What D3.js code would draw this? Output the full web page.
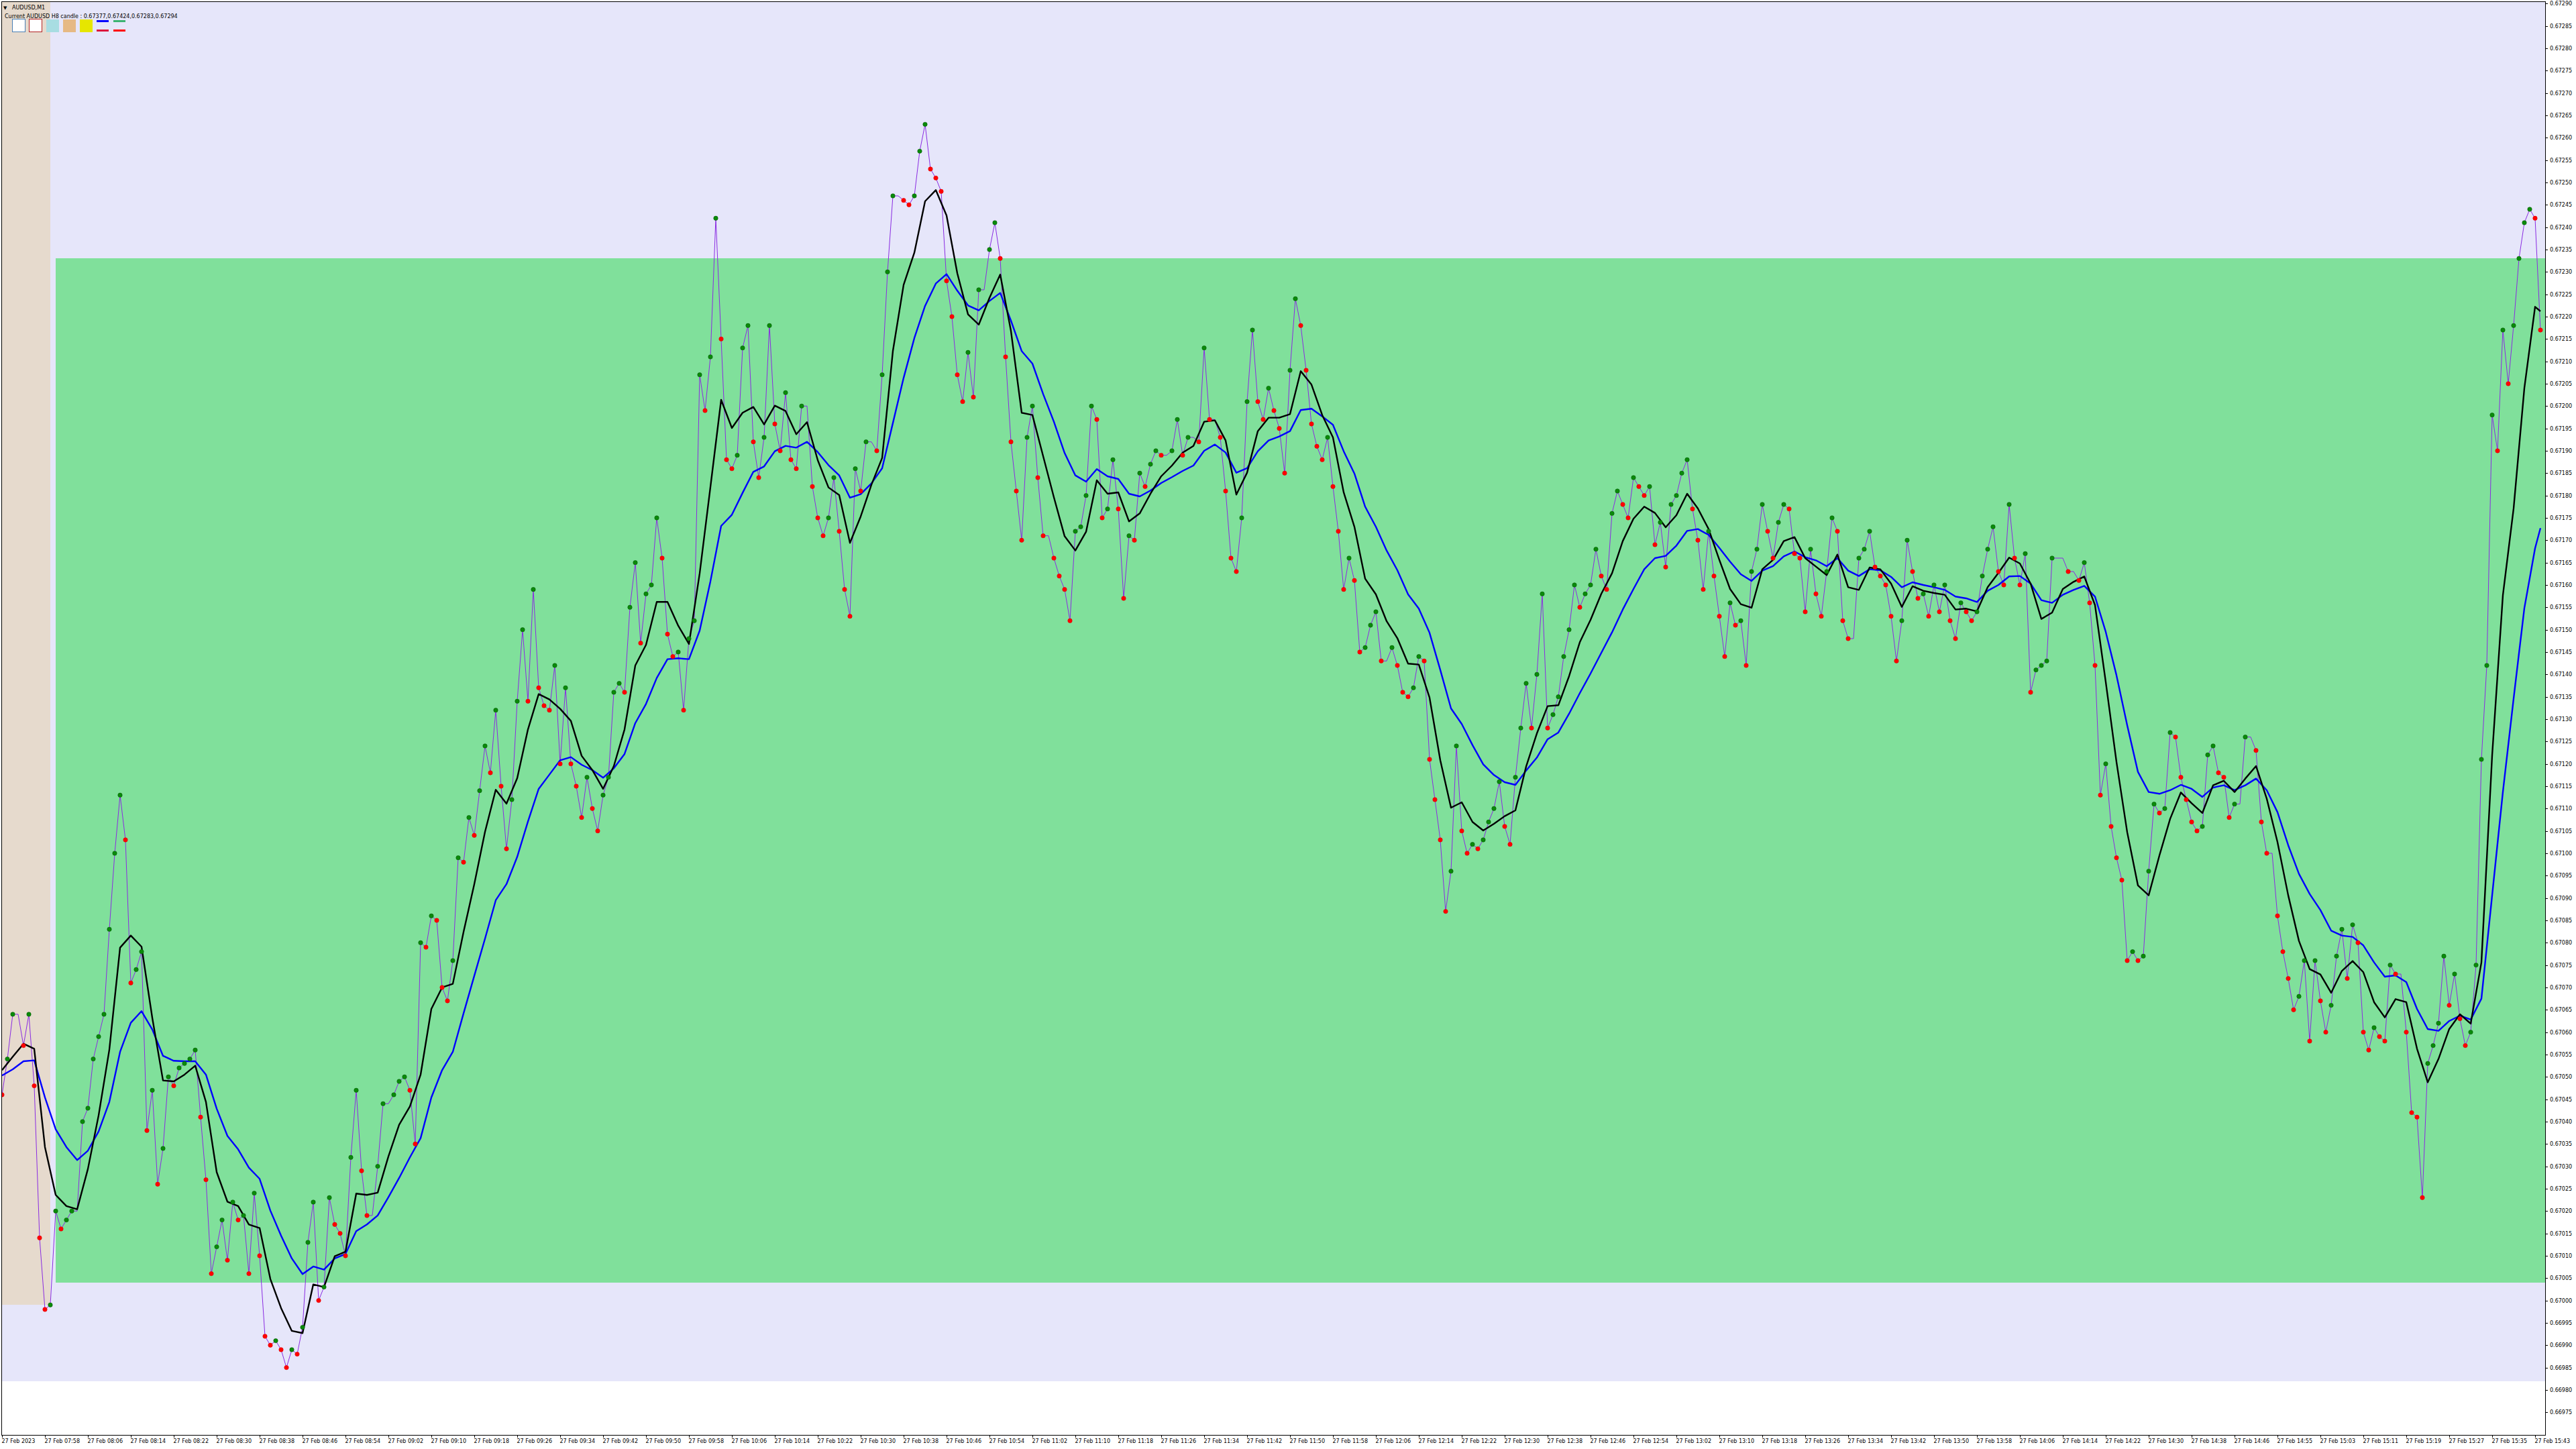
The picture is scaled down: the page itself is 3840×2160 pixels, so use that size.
<!DOCTYPE html>
<html><head><meta charset="utf-8">
<script src="https://cdn.jsdelivr.net/npm/d3@7"></script>
<style>
html,body{margin:0;padding:0;background:#fff;}
svg{display:block;}
text{font-family:"DejaVu Sans",sans-serif;}
</style>
</head><body>
<svg id="chart" width="3840" height="2160"></svg>
<script>
// ---------------- DATA ----------------
const symbolLabel = "AUDUSD,M1";
const infoLabel = "Current AUDUSD H8 candle : 0.67377,0.67424,0.67283,0.67294";

// M1 closes, 07:50 .. 15:44 (one value per bar)
const closes = [
0.67046,0.67054,0.67064,0.67064,0.67057,0.67064,0.67048,0.67014,0.66998,0.66999,0.67020,0.67016,0.67018,0.67020,0.67020,0.67040,0.67043,0.67054,0.67059,0.67064,
0.67083,0.67100,0.67113,0.67103,0.67071,0.67074,0.67078,0.67038,0.67047,0.67026,0.67034,0.67050,0.67048,0.67052,0.67053,0.67054,0.67056,0.67041,0.67027,0.67006,
0.67012,0.67018,0.67009,0.67022,0.67018,0.67019,0.67006,0.67024,0.67010,0.66992,0.66990,0.66991,0.66989,0.66985,0.66989,0.66988,0.66994,0.67013,0.67022,0.67000,
0.67003,0.67023,0.67017,0.67015,0.67010,0.67032,0.67047,0.67029,0.67019,0.67019,0.67030,0.67044,0.67044,0.67046,0.67049,0.67050,0.67047,0.67035,0.67080,0.67079,
0.67086,0.67085,0.67070,0.67067,0.67076,0.67099,0.67098,0.67108,0.67104,0.67114,0.67124,0.67118,0.67132,0.67115,0.67101,0.67112,0.67134,0.67150,0.67134,0.67159,
0.67137,0.67133,0.67132,0.67142,0.67120,0.67137,0.67120,0.67115,0.67108,0.67117,0.67110,0.67105,0.67113,0.67117,0.67136,0.67138,0.67136,0.67155,0.67165,0.67147,
0.67158,0.67160,0.67175,0.67166,0.67149,0.67144,0.67145,0.67132,0.67148,0.67152,0.67207,0.67199,0.67211,0.67242,0.67215,0.67188,0.67186,0.67189,0.67213,0.67218,
0.67192,0.67184,0.67193,0.67218,0.67196,0.67190,0.67203,0.67188,0.67186,0.67200,0.67200,0.67182,0.67175,0.67171,0.67175,0.67184,0.67172,0.67159,0.67153,0.67186,
0.67181,0.67192,0.67192,0.67190,0.67207,0.67230,0.67247,0.67247,0.67246,0.67245,0.67247,0.67257,0.67263,0.67253,0.67251,0.67248,0.67228,0.67220,0.67207,0.67201,
0.67212,0.67202,0.67226,0.67226,0.67235,0.67241,0.67233,0.67211,0.67192,0.67181,0.67170,0.67193,0.67200,0.67184,0.67171,0.67171,0.67166,0.67162,0.67159,0.67152,
0.67172,0.67173,0.67180,0.67200,0.67197,0.67175,0.67177,0.67188,0.67177,0.67157,0.67171,0.67170,0.67185,0.67182,0.67187,0.67190,0.67189,0.67189,0.67190,0.67197,
0.67189,0.67193,0.67193,0.67192,0.67213,0.67197,0.67197,0.67193,0.67181,0.67166,0.67163,0.67175,0.67201,0.67217,0.67201,0.67197,0.67204,0.67199,0.67195,0.67185,
0.67208,0.67224,0.67218,0.67208,0.67196,0.67191,0.67188,0.67193,0.67182,0.67172,0.67159,0.67166,0.67161,0.67145,0.67146,0.67151,0.67154,0.67143,0.67143,0.67146,
0.67142,0.67136,0.67135,0.67137,0.67144,0.67143,0.67121,0.67112,0.67103,0.67087,0.67096,0.67124,0.67105,0.67100,0.67102,0.67101,0.67103,0.67107,0.67110,0.67116,
0.67106,0.67102,0.67117,0.67128,0.67138,0.67128,0.67140,0.67158,0.67128,0.67131,0.67135,0.67144,0.67150,0.67160,0.67155,0.67158,0.67160,0.67168,0.67162,0.67159,
0.67176,0.67181,0.67178,0.67175,0.67184,0.67182,0.67180,0.67182,0.67169,0.67174,0.67164,0.67178,0.67180,0.67185,0.67188,0.67177,0.67170,0.67159,0.67172,0.67162,
0.67153,0.67144,0.67156,0.67151,0.67152,0.67142,0.67163,0.67168,0.67178,0.67172,0.67166,0.67174,0.67178,0.67177,0.67167,0.67166,0.67154,0.67168,0.67158,0.67153,
0.67163,0.67175,0.67172,0.67152,0.67148,0.67148,0.67166,0.67168,0.67172,0.67164,0.67162,0.67160,0.67153,0.67143,0.67152,0.67170,0.67163,0.67157,0.67158,0.67153,
0.67160,0.67154,0.67160,0.67152,0.67148,0.67156,0.67154,0.67152,0.67154,0.67162,0.67168,0.67173,0.67163,0.67160,0.67178,0.67166,0.67160,0.67167,0.67136,0.67141,
0.67142,0.67143,0.67166,0.67166,0.67166,0.67163,0.67163,0.67161,0.67165,0.67156,0.67142,0.67113,0.67120,0.67106,0.67099,0.67094,0.67076,0.67078,0.67076,0.67077,
0.67096,0.67111,0.67109,0.67110,0.67127,0.67126,0.67117,0.67112,0.67107,0.67105,0.67106,0.67122,0.67124,0.67118,0.67117,0.67108,0.67111,0.67111,0.67126,0.67126,
0.67123,0.67107,0.67100,0.67100,0.67086,0.67078,0.67072,0.67065,0.67068,0.67076,0.67058,0.67076,0.67067,0.67060,0.67066,0.67077,0.67083,0.67072,0.67084,0.67080,
0.67060,0.67056,0.67061,0.67059,0.67058,0.67075,0.67073,0.67073,0.67060,0.67042,0.67041,0.67023,0.67053,0.67057,0.67062,0.67077,0.67066,0.67073,0.67063,0.67057,
0.67060,0.67075,0.67121,0.67142,0.67198,0.67190,0.67217,0.67205,0.67218,0.67233,0.67241,0.67244,0.67242,0.67217
];

// black moving average, read every 2nd bar (bars 0,2,...,472) plus last bar 473
const maFast = [
0.670515,0.670545,0.670574,0.670563,0.670343,0.670236,0.670211,0.670204,0.670294,0.670414,
0.670561,0.670789,0.670816,0.670791,0.670632,0.670492,0.670490,0.670505,0.670525,0.670444,
0.670287,0.670221,0.670211,0.670170,0.670162,0.670048,0.669983,0.669932,0.669927,0.670036,
0.670030,0.670099,0.670109,0.670239,0.670236,0.670241,0.670322,0.670393,0.670434,0.670505,
0.670652,0.670700,0.670708,0.670824,0.670931,0.671048,0.671142,0.671111,0.671168,0.671277,
0.671356,0.671344,0.671323,0.671296,0.671218,0.671186,0.671144,0.671195,0.671277,0.671420,
0.671466,0.671562,0.671562,0.671509,0.671468,0.671626,0.671819,0.672014,0.671951,0.671985,
0.671998,0.671959,0.672001,0.671989,0.671937,0.671964,0.671879,0.671818,0.671801,0.671694,
0.671753,0.671824,0.671884,0.672123,0.672271,0.672343,0.672458,0.672483,0.672426,0.672297,
0.672205,0.672182,0.672242,0.672294,0.672168,0.671985,0.671980,0.671888,0.671796,0.671709,
0.671677,0.671719,0.671834,0.671804,0.671807,0.671742,0.671760,0.671804,0.671843,0.671867,
0.671896,0.671911,0.671965,0.671968,0.671923,0.671802,0.671851,0.671944,0.671974,0.671974,
0.671982,0.672078,0.672048,0.671980,0.671930,0.671807,0.671730,0.671614,0.671579,0.671519,
0.671481,0.671424,0.671422,0.671348,0.671208,0.671102,0.671114,0.671070,0.671051,0.671066,
0.671083,0.671096,0.671194,0.671268,0.671329,0.671331,0.671396,0.671472,0.671522,0.671580,
0.671626,0.671698,0.671748,0.671775,0.671761,0.671729,0.671756,0.671804,0.671771,0.671725,
0.671656,0.671591,0.671557,0.671549,0.671635,0.671656,0.671698,0.671707,0.671660,0.671641,
0.671622,0.671668,0.671595,0.671589,0.671639,0.671635,0.671603,0.671551,0.671597,0.671587,
0.671582,0.671578,0.671545,0.671547,0.671541,0.671595,0.671627,0.671661,0.671648,0.671603,
0.671524,0.671538,0.671591,0.671607,0.671619,0.671555,0.671383,0.671204,0.671047,0.670928,
0.670906,0.670995,0.671077,0.671136,0.671112,0.671090,0.671152,0.671162,0.671137,0.671167,
0.671195,0.671122,0.671025,0.670906,0.670804,0.670741,0.670729,0.670688,0.670737,0.670759,
0.670734,0.670667,0.670633,0.670674,0.670667,0.670563,0.670488,0.670540,0.670607,0.670640,
0.670619,0.670756,0.671219,0.671577,0.671771,0.672040,0.672222,
0.672212
];

// blue moving average, same sampling
const maSlow = [
0.670503,0.670517,0.670535,0.670537,0.670454,0.670383,0.670343,0.670314,0.670335,0.670378,
0.670444,0.670556,0.670621,0.670647,0.670606,0.670547,0.670536,0.670535,0.670535,0.670505,
0.670429,0.670368,0.670338,0.670297,0.670272,0.670201,0.670145,0.670094,0.670059,0.670076,
0.670069,0.670094,0.670104,0.670155,0.670170,0.670190,0.670231,0.670274,0.670320,0.670363,
0.670454,0.670515,0.670556,0.670642,0.670726,0.670809,0.670895,0.670931,0.670992,0.671071,
0.671144,0.671176,0.671208,0.671215,0.671198,0.671186,0.671169,0.671190,0.671222,0.671291,
0.671334,0.671392,0.671434,0.671436,0.671434,0.671498,0.671608,0.671732,0.671757,0.671806,
0.671853,0.671865,0.671899,0.671911,0.671907,0.671920,0.671897,0.671868,0.671845,0.671795,
0.671803,0.671827,0.671861,0.671962,0.672063,0.672152,0.672224,0.672274,0.672295,0.672258,
0.672225,0.672214,0.672235,0.672253,0.672191,0.672123,0.672095,0.672027,0.671965,0.671895,
0.671845,0.671831,0.671859,0.671843,0.671837,0.671804,0.671798,0.671811,0.671828,0.671841,
0.671855,0.671867,0.671900,0.671914,0.671896,0.671851,0.671861,0.671899,0.671923,0.671932,
0.671944,0.671991,0.671994,0.671977,0.671958,0.671899,0.671849,0.671775,0.671730,0.671677,
0.671633,0.671579,0.671547,0.671493,0.671410,0.671324,0.671289,0.671242,0.671199,0.671175,
0.671159,0.671153,0.671185,0.671214,0.671255,0.671270,0.671312,0.671358,0.671402,0.671448,
0.671494,0.671545,0.671591,0.671635,0.671660,0.671665,0.671688,0.671721,0.671725,0.671712,
0.671683,0.671652,0.671624,0.671609,0.671632,0.671642,0.671664,0.671675,0.671662,0.671655,
0.671642,0.671660,0.671632,0.671620,0.671635,0.671633,0.671618,0.671595,0.671606,0.671600,
0.671595,0.671589,0.671574,0.671570,0.671562,0.671587,0.671600,0.671619,0.671620,0.671603,
0.671566,0.671560,0.671578,0.671589,0.671598,0.671574,0.671495,0.671398,0.671286,0.671182,
0.671137,0.671133,0.671141,0.671153,0.671144,0.671126,0.671147,0.671152,0.671141,0.671152,
0.671167,0.671141,0.671092,0.671018,0.670954,0.670909,0.670873,0.670827,0.670816,0.670813,
0.670794,0.670756,0.670724,0.670727,0.670712,0.670652,0.670607,0.670603,0.670625,0.670637,
0.670628,0.670675,0.670906,0.671137,0.671346,0.671548,0.671682,
0.671727
];

// x-axis labels, one every 8 bars
const timeLabels = [
"27 Feb 2023","27 Feb 07:58","27 Feb 08:06","27 Feb 08:14","27 Feb 08:22","27 Feb 08:30","27 Feb 08:38","27 Feb 08:46",
"27 Feb 08:54","27 Feb 09:02","27 Feb 09:10","27 Feb 09:18","27 Feb 09:26","27 Feb 09:34","27 Feb 09:42","27 Feb 09:50",
"27 Feb 09:58","27 Feb 10:06","27 Feb 10:14","27 Feb 10:22","27 Feb 10:30","27 Feb 10:38","27 Feb 10:46","27 Feb 10:54",
"27 Feb 11:02","27 Feb 11:10","27 Feb 11:18","27 Feb 11:26","27 Feb 11:34","27 Feb 11:42","27 Feb 11:50","27 Feb 11:58",
"27 Feb 12:06","27 Feb 12:14","27 Feb 12:22","27 Feb 12:30","27 Feb 12:38","27 Feb 12:46","27 Feb 12:54","27 Feb 13:02",
"27 Feb 13:10","27 Feb 13:18","27 Feb 13:26","27 Feb 13:34","27 Feb 13:42","27 Feb 13:50","27 Feb 13:58","27 Feb 14:06",
"27 Feb 14:14","27 Feb 14:22","27 Feb 14:30","27 Feb 14:38","27 Feb 14:46","27 Feb 14:55","27 Feb 15:03","27 Feb 15:11",
"27 Feb 15:19","27 Feb 15:27","27 Feb 15:35","27 Feb 15:43"
];

// price zones (rectangles): [name, first bar, low price, high price]
const zoneNames = ["range", "prev", "box"];
const zoneFromBar = [null, null, 10];
const zoneToBar = [null, 9, null];
const zoneLow = [0.66982, 0.66999, 0.67004];
const zoneHigh = [null, null, 0.67233];

// y-axis tick labels
const priceTickValues = d3.range(0, 64).map(k => +(0.66975 + k * 0.00005).toFixed(5));

// ---------------- LAYOUT ----------------
const W = 3840, H = 2160;
const plot = {left: 2, right: 3794, top: 2, bottom: 2139};
const nBars = closes.length;

const x = d3.scaleLinear().domain([0, 473]).range([3, 3787]);
const y = d3.scaleLinear().domain([0.6696994, 0.672905]).range([plot.bottom, plot.top]);

const svg = d3.select("#chart");
svg.append("rect").attr("x",0).attr("y",0).attr("width",W).attr("height",H).attr("fill","#ffffff");

svg.append("defs").append("clipPath").attr("id","pc")
  .append("rect").attr("x",plot.left).attr("y",plot.top)
  .attr("width",plot.right-plot.left).attr("height",plot.bottom-plot.top);

const g = svg.append("g").attr("clip-path","url(#pc)");

const zoneFill = ["#e6e6fa", "#e6dacd", "#80e09b"];
zoneNames.forEach((nm, k) => {
  const x0 = zoneFromBar[k] == null ? plot.left : x(zoneFromBar[k]);
  const x1 = zoneToBar[k] == null ? plot.right : x(zoneToBar[k]);
  const yTop = zoneHigh[k] == null ? plot.top : y(zoneHigh[k]);
  const yBot = y(zoneLow[k]);
  g.append("rect").attr("class","zone-"+nm)
    .attr("x",x0).attr("y",yTop).attr("width",x1-x0).attr("height",yBot-yTop)
    .attr("fill",zoneFill[k]).attr("shape-rendering","crispEdges");
});

// close line
const closeLine = d3.line().x((d,i)=>x(i)).y(d=>y(d));
g.append("path").datum(closes).attr("d",closeLine)
  .attr("fill","none").attr("stroke","#8a2be2").attr("stroke-width",1);

// moving averages
const maBars = d3.range(0, 473, 2).concat([473]);
const maLine = d3.line().x((d,i)=>x(maBars[i])).y(d=>y(d));
g.append("path").datum(maSlow).attr("d",maLine)
  .attr("fill","none").attr("stroke","#0000ff").attr("stroke-width",2.4).attr("stroke-linejoin","round");
g.append("path").datum(maFast).attr("d",maLine)
  .attr("fill","none").attr("stroke","#000000").attr("stroke-width",2.4).attr("stroke-linejoin","round");

// dots: green when close rose, red when it fell, none when unchanged
const dots = closes.map((c,i)=>({i, c, dir: i===0 ? -1 : Math.sign(c - closes[i-1])}))
  .filter(d => d.dir !== 0);
g.selectAll("circle.dot").data(dots).join("circle").attr("class","dot")
  .attr("cx",d=>x(d.i)).attr("cy",d=>y(d.c)).attr("r",3.2)
  .attr("fill",d=>d.dir>0 ? "#0a8a0a" : "#ff0000")
  .attr("stroke",d=>d.dir>0 ? "#056005" : "#e00000").attr("stroke-width",0.6);

// frame
svg.append("rect").attr("x",plot.left).attr("y",plot.top)
  .attr("width",plot.right-plot.left).attr("height",plot.bottom-plot.top)
  .attr("fill","none").attr("stroke","#000").attr("stroke-width",1).attr("shape-rendering","crispEdges");

// right price axis
const yAxis = d3.axisRight(y).tickValues(priceTickValues).tickFormat(d3.format(".5f")).tickSize(4).tickPadding(3);
const ya = svg.append("g").attr("transform",`translate(${plot.right},0)`).call(yAxis);
ya.select(".domain").remove();
ya.selectAll("text").attr("font-size","8px").attr("font-family","DejaVu Sans").attr("fill","#000");
ya.selectAll("line").attr("stroke","#000").attr("shape-rendering","crispEdges");

// bottom time axis
const xTickBars = d3.range(0, nBars, 8);
const xAxis = d3.axisBottom(x).tickValues(xTickBars).tickFormat((d,i)=>timeLabels[i]).tickSize(4).tickPadding(2);
const xa = svg.append("g").attr("transform",`translate(0,${plot.bottom})`).call(xAxis);
xa.select(".domain").remove();
xa.selectAll("text").attr("font-size","8px").attr("font-family","DejaVu Sans").attr("fill","#000")
  .attr("text-anchor","start").attr("dx","-1");
xa.selectAll("line").attr("stroke","#000").attr("shape-rendering","crispEdges");

// legend (top-left)
const lg = svg.append("g");
lg.append("text").attr("x",5).attr("y",14).attr("font-size","7px").text("\u25BC");
lg.append("text").attr("x",18).attr("y",14).attr("font-size","8px").text(symbolLabel);
lg.append("text").attr("x",7).attr("y",27).attr("font-size","8px").text(infoLabel);
const sw = [
  {x:18, fill:"#ffffff", stroke:"#4a7fb5"},
  {x:43, fill:"#ffffff", stroke:"#b22222"},
  {x:68, fill:"#a8dde2", stroke:"none"},
  {x:93, fill:"#e6b984", stroke:"none"},
  {x:118, fill:"#e6e600", stroke:"none"}
];
sw.forEach(s => lg.append("rect").attr("x",s.x+0.5).attr("y",28.5).attr("width",19).attr("height",19)
  .attr("fill",s.fill).attr("stroke",s.stroke).attr("stroke-width",1).attr("shape-rendering","crispEdges"));
const segs = [
  {x:144, y:30, c:"#0000ff"}, {x:144, y:44, c:"#dc143c"},
  {x:169, y:30, c:"#3cb371"}, {x:169, y:44, c:"#ff0000"}
];
segs.forEach(s => lg.append("rect").attr("x",s.x).attr("y",s.y).attr("width",18).attr("height",3)
  .attr("fill",s.c).attr("shape-rendering","crispEdges"));
</script>
</body></html>
